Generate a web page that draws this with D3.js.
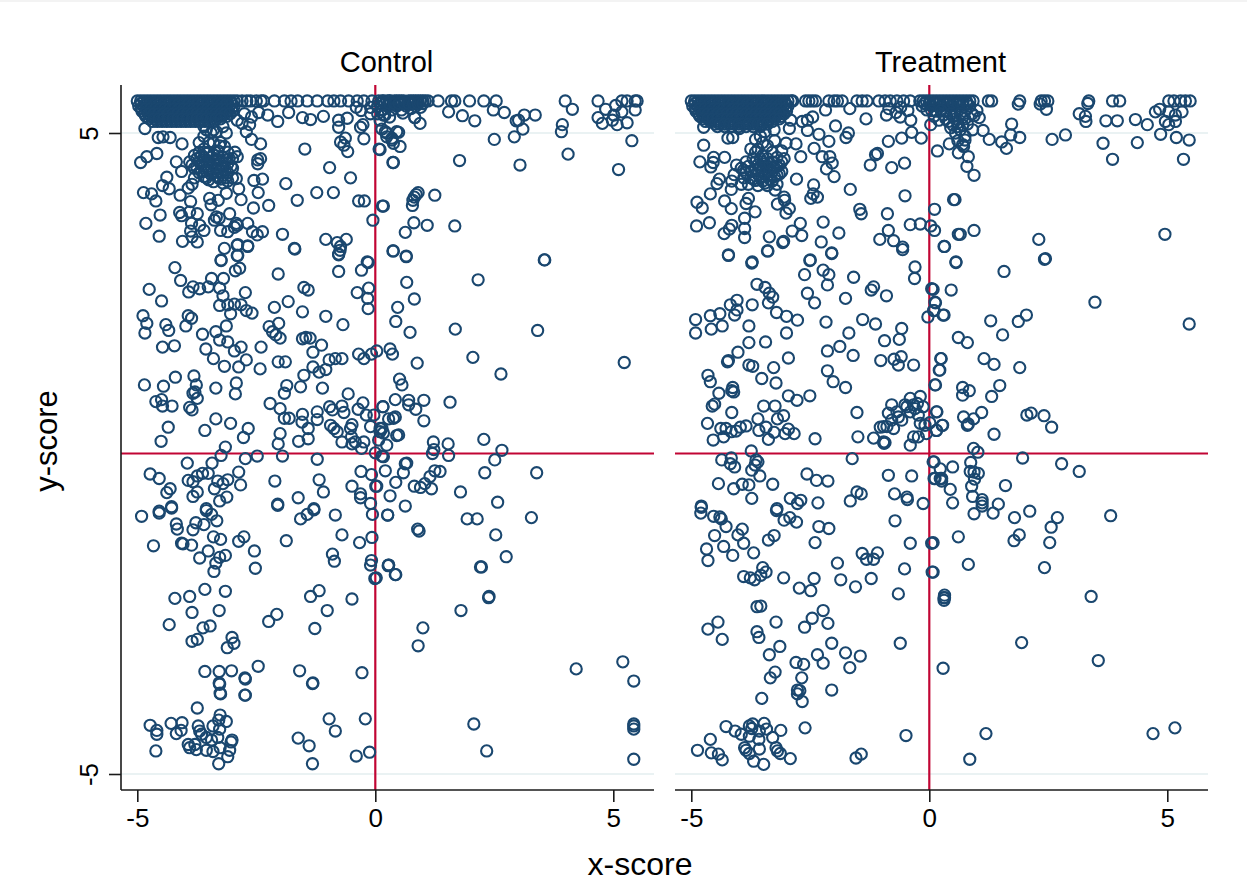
<!DOCTYPE html>
<html>
<head>
<meta charset="utf-8">
<script src="https://cdn.jsdelivr.net/npm/d3@7"></script>
<style>
  html, body { margin: 0; padding: 0; background: #fff; }
  svg { display: block; }
  text { font-family: "Liberation Sans", Arial, sans-serif; fill: #000; }
</style>
</head>
<body>
<svg id="chart" width="1247" height="895"></svg>
<script>
const panelTitles = ['Control', 'Treatment']
const xTicks = [-5, 0, 5]
const yTicks = [-5, 5]
const gridValues = [-5, 5]

// Control: scores pinned at the top of the scale
const controlTopRow = [-5,-4.93,-4.86,-4.79,-4.72,-4.65,-4.58,-4.51,-4.44,-4.37,-4.3,-4.23,-4.16,-4.09,-4.02,-3.95,-3.88,-3.81,-3.74,-3.67,-3.6,-3.53,-3.46,-3.39,-3.32,-3.25,-3.18,-3.11,-3.04,-2.97,-2.9,-2.8,-2.7,-2.62,-2.5,-2.4,-2.35,-2.12,-1.91,-1.77,-1.63,-1.43,-1.22,-1,-.87,-.73,-.56,-.38,-.24,-.07,.07,.15,.17,.25,.3,.31,.4,.45,.5,.55,.6,.7,.75,.8,.85,.9,.95,1,1.05,1.11,1.32,1.6,1.67,1.98,2.28,2.54,3.99,4.68,5.18,5.29,5.46,5.5]
const controlMass = [
  [-4.97,5.42],[-4.87,5.42],[-4.77,5.42],[-4.67,5.42],[-4.57,5.42],[-4.47,5.42],[-4.37,5.42],[-4.27,5.42],[-4.17,5.42],[-4.07,5.42],[-3.97,5.42],[-3.87,5.42],[-3.77,5.42],[-3.67,5.42],[-3.57,5.42],[-3.47,5.42],[-3.37,5.42],[-3.27,5.42],[-3.17,5.42],[-3.07,5.42],[-2.97,5.42],
  [-4.9,5.34],[-4.8,5.34],[-4.7,5.34],[-4.6,5.34],[-4.5,5.34],[-4.4,5.34],[-4.3,5.34],[-4.2,5.34],[-4.1,5.34],[-4,5.34],[-3.9,5.34],[-3.8,5.34],[-3.7,5.34],[-3.6,5.34],[-3.5,5.34],[-3.4,5.34],[-3.3,5.34],[-3.2,5.34],[-3.1,5.34],[-3,5.34],
  [-4.82,5.26],[-4.72,5.26],[-4.62,5.26],[-4.52,5.26],[-4.42,5.26],[-4.32,5.26],[-4.22,5.26],[-4.12,5.26],[-4.02,5.26],[-3.92,5.26],[-3.82,5.26],[-3.72,5.26],[-3.62,5.26],[-3.52,5.26],[-3.42,5.26],[-3.32,5.26],[-3.22,5.26],[-3.12,5.26],
  [-4.68,5.18],[-4.58,5.18],[-4.48,5.18],[-4.38,5.18],[-4.28,5.18],[-4.18,5.18],[-4.08,5.18],[-3.98,5.18],[-3.88,5.18],[-3.78,5.18],[-3.68,5.18],[-3.58,5.18],[-3.48,5.18],[-3.38,5.18],
  [-4.92,5.46],[-4.82,5.46],[-4.72,5.46],[-4.62,5.46],[-4.52,5.46],[-4.42,5.46],[-4.32,5.46],[-4.22,5.46],[-4.12,5.46],[-4.02,5.46],[-3.92,5.46],[-3.82,5.46],[-3.72,5.46],[-3.62,5.46],[-3.52,5.46],[-3.42,5.46],[-3.32,5.46],[-3.22,5.46],[-3.12,5.46],[-3.02,5.46],
  [-4.92,5.38],[-4.82,5.38],[-4.72,5.38],[-4.62,5.38],[-4.52,5.38],[-4.42,5.38],[-4.32,5.38],[-4.22,5.38],[-4.12,5.38],[-4.02,5.38],[-3.92,5.38],[-3.82,5.38],[-3.72,5.38],[-3.62,5.38],[-3.52,5.38],[-3.42,5.38],[-3.32,5.38],[-3.22,5.38],[-3.12,5.38],[-3.02,5.38],
  [-4.85,5.3],[-4.75,5.3],[-4.65,5.3],[-4.55,5.3],[-4.45,5.3],[-4.35,5.3],[-4.25,5.3],[-4.15,5.3],[-4.05,5.3],[-3.95,5.3],[-3.85,5.3],[-3.75,5.3],[-3.65,5.3],[-3.55,5.3],[-3.45,5.3],[-3.35,5.3],[-3.25,5.3],[-3.15,5.3],[-3.05,5.3],
  [-4.75,5.22],[-4.65,5.22],[-4.55,5.22],[-4.45,5.22],[-4.35,5.22],[-4.25,5.22],[-4.15,5.22],[-4.05,5.22],[-3.95,5.22],[-3.85,5.22],[-3.75,5.22],[-3.65,5.22],[-3.55,5.22],[-3.45,5.22],[-3.35,5.22],[-3.25,5.22],
  [-2.75,5.3],[-2.6,5.25],[-2.45,5.32],[-2.9,5.2],[-2.8,5.15],[-3.2,5.1],[-3.4,5.05],[-3.6,5.1],
  [-.4,5.4],[-.3,5.35],[-.1,5.4],[.05,5.42],[.15,5.36],[.25,5.42],[.35,5.36],[.45,5.42],[.55,5.36],[.65,5.42],[.75,5.38],[.85,5.42],[.95,5.4],[-.1,5.3],[.05,5.3],[.2,5.28],[.3,5.25],[.58,5.31],[.83,5.24],[.94,5.15],[.1,5.2],[.1,5.46],[.2,5.46],[.3,5.46],[.4,5.46],[.5,5.46],[.6,5.46],[.7,5.46],[.8,5.46],[.9,5.46],[1,5.46]
]
const controlCluster = [
  [-3.9,4.55],[-3.8,4.65],[-3.8,4.45],[-3.7,4.7],[-3.7,4.55],[-3.7,4.38],[-3.6,4.75],[-3.6,4.62],[-3.6,4.48],[-3.6,4.32],[-3.5,4.7],[-3.5,4.56],[-3.5,4.42],[-3.5,4.27],[-3.4,4.66],[-3.4,4.52],[-3.4,4.38],[-3.4,4.24],[-3.3,4.72],[-3.3,4.58],[-3.3,4.44],[-3.3,4.3],[-3.2,4.62],[-3.2,4.48],[-3.2,4.34],[-3.2,4.22],[-3.1,4.7],[-3.1,4.52],[-3.1,4.38],[-3.1,4.25],[-3,4.6],[-3,4.45],[-3,4.3],
  [-3.7,4.85],[-3.6,4.95],[-3.5,4.85],[-3.45,5],[-3.55,5.05],[-3.4,4.85],[-3.25,4.85],[-3.8,4.3],[-3.85,4.2],[-2.95,4.7],
  [-3.85,4.5],[-3.75,4.6],[-3.75,4.47],[-3.65,4.65],[-3.65,4.5],[-3.65,4.4],[-3.55,4.68],[-3.55,4.55],[-3.55,4.4],[-3.55,4.3],[-3.45,4.62],[-3.45,4.48],[-3.45,4.35],[-3.35,4.6],[-3.35,4.45],[-3.35,4.33],[-3.25,4.52],[-3.25,4.4],[-3.25,4.28],[-3.15,4.58],[-3.15,4.44],[-3.15,4.3]
]
const controlScatter = [
  [-4.84,5.07],[-4.56,4.93],[-4.46,4.94],[-4.31,4.93],[-4.59,4.68],[-4.8,4.63],[-4.93,4.54],[-4.06,4.83],[-4.18,4.55],[-4.07,4.4],[-4.38,4.31],[-4.87,4.07],[-4.7,4.05],[-4.61,3.94],[-4.47,4.18],[-4.33,4.13],[-4.1,4.03],[-3.93,4.14],[-4.82,3.59],[-4.52,3.72],[-4.54,3.39],[-4.11,3.76],[-4.07,3.71],[-3.9,3.77],[-3.74,3.74],[-3.88,3.93],[-3.86,3.59],[-3.69,3.56],[-3.6,3.48],[-3.88,3.47],[-3.85,3.38],[-3.74,3.3],[-4.05,3.31],[-3.17,3.2],[-2.9,3.25],[-3.24,3.02],[-2.9,3.09],[-2.68,3.23],[-3.25,3.48],[-3.1,3.46],[-2.9,3.56],[-2.68,3.59],[-2.58,3.46],[-2.48,3.41],[-2.37,3.46],[-1.95,3.42],[-1.7,3.2],[-1.04,3.34],[-.8,3.29],[-.61,3.34],[-.74,3.17],[-.77,3.11],[-.17,2.99],[-3.48,3.98],[-3.45,3.88],[-3.3,3.95],[-3.34,3.69],[-3.38,3.64],[-3.06,3.74],[-3.28,3.67],[-2.92,3.59],[-2.96,3.53],[-2.92,4.29],[-3.13,4.06],[-2.87,4.13],[-2.82,3.96],[-2.56,3.83],[-2.24,3.87],[-2.55,4.26],[-2.37,4.28],[-2.46,4.07],[-1.88,4.21],[-1.64,3.95],[-1.23,4.07],[-.88,4.07],[-.52,4.3],[-.96,4.46],[-.35,3.94],[-.23,3.94],[.15,3.86],[-.05,3.64],[.38,3.16],[.38,4.54],[.08,4.75],[-1.48,4.75],[-2.41,4.83],[-2.6,4.9],[-2.71,5.02],[-2.64,5.13],[-2.47,4.58],[-2.41,4.6],[-2.47,4.52],[-2.9,4.63],[-3.07,4.6],[-3.03,4.48],[-3.17,4.79],[-3.27,4.8],[-3.13,5],[-3.34,5.02],[-2.05,5.18],[-1.82,5.32],[-2.26,5.28],[-1.53,5.24],[-1.36,5.21],[-1.09,5.26],[-.77,5.09],[-.77,5.2],[-.59,5.23],[-.73,4.86],[-.63,4.92],[-.58,4.71],[-.66,4.81],[-.24,4.91],[-.26,5.13],[-.31,5.09],[.17,5.28],[.14,5.06],[.24,5],[.35,4.89],[.45,5.02],
  [1.54,5.33],[1.83,5.27],[2.09,5.19],[2.48,5.36],[2.71,5.32],[2.96,5.19],[3.01,5.2],[3.13,5.28],[3.36,5.28],[3.1,5.06],[2.5,4.9],[2.92,4.94],[3.93,5.13],[3.91,5.02],[4.14,5.37],[4.05,4.67],[3.04,4.5],[1.77,4.57],[.37,4.54],[5.11,4.43],[5.39,4.88],[4.68,5.24],[4.84,5.37],[4.77,5.15],[5.05,5.43],[4.98,5.2],[5.08,5.13],[5.29,5.16],[5.18,5.33],[5.46,5.36],[5.01,5.28],[.21,5.02],[.24,4.94],[.35,4.92],[.38,4.84],[.52,4.79],[.49,5.01],[.1,4.74],[.83,5.24],
  [.9,4.07],[.86,4.04],[.82,4],[.79,3.95],[.78,3.87],[1.25,4.03],[.17,3.86],[.81,3.6],[.63,3.45],[1.09,3.56],[1.67,3.55],[.37,3.16],[.65,3.07],[3.55,3.02],
  [-2.89,3.26],[-2.68,3.24],[-2.89,3.09],[-3.24,3.01],[-2.85,2.89],[-2.94,2.85],[-4.21,2.9],[-4.09,2.7],[-4.75,2.56],[-4.49,2.38],[-3.83,2.6],[-3.92,2.52],[-3.69,2.57],[-3.51,2.6],[-3.44,2.73],[-3.19,2.73],[-3.27,2.58],[-3.2,2.46],[-3.27,2.31],[-3.1,2.32],[-2.96,2.33],[-2.82,2.32],[-2.73,2.51],[-2.71,2.23],[-2.59,2.19],[-3.04,2.18],[-3.13,1.99],[-3.35,1.9],[-3.63,1.86],[-3.27,1.77],[-3.1,1.74],[-3.56,1.63],[-2.96,1.6],[-2.82,1.66],[-2.4,1.66],[-3.4,1.48],[-2.71,1.46],[-3.17,1.36],[-2.87,1.35],[-2.42,1.32],[-2.04,1.43],[-1.89,1.43],
  [-4.88,2.15],[-4.8,2.03],[-4.84,1.88],[-4.4,2.01],[-4.34,1.92],[-4.47,1.66],[-4.22,1.68],[-3.93,2.15],[-3.86,2.11],[-3.98,1.99],
  [-2.04,2.8],[-1.69,3.19],[-2.12,2.28],[-1.83,2.37],[-1.53,2.21],[-1.5,2.59],[-1.41,2.55],[-1.04,2.14],[-.68,2.01],[-.77,2.84],[-.77,3.1],[-.73,3.23],[-.29,2.86],[-.15,2.98],[-.38,2.51],[-.14,2.58],[-.16,2.42],[-.15,2.26],[-2.23,1.98],[-2.03,2.03],[-2.16,1.9],[-2.09,1.85],[-2,1.8],[-1.53,1.79],[-1.46,1.81],[-1.37,1.8],[-1.13,1.69],[-1.31,1.58],[-.97,1.46],[-.84,1.48],[-.7,1.48],[-.35,1.55],[-.24,1.48],[-.08,1.55],[.03,1.6],[-1.31,1.35],[-1.18,1.27],[-1.04,1.31],[-1.5,1.22],[-1.57,1.04],[-1.86,1.06],[-1.91,.94],[-1.11,1.02],[-.57,.93],
  [-4.85,1.07],[-4.2,1.19],[-4.45,1.05],[-3.81,1.21],[-3.76,1.07],[-3.79,.96],[-3.83,.94],[-3.74,.86],[-3.35,1.02],[-2.92,1.1],[-2.94,.93],[-4.61,.81],[-4.49,.84],[-4.47,.74],[-4.27,.74],[-3.9,.72],[-3.85,.68],[-4.35,.41],[-4.5,.19],[-3.58,.36],[-3.35,.54],[-3.04,.47],[-2.67,.39],[-2.77,.25],[-3.15,.1],[-3.24,-.03],[-2.73,-.08],[-2.48,-.04],[-1.95,-.04],[-2.21,.78],[-2,.7],[-1.91,.55],[-1.81,.55],[-2,.31],[-2.04,.15],[-1.61,.19],[-1.41,.23],[-1.41,.39],[-1.53,.61],[-1.54,.49],[-1.22,.65],[-1.22,.53],
  [-.96,.73],[-.9,.68],[-.7,.74],[-.66,.64],[-.36,.69],[-.26,.79],[-.19,.6],[-.03,.6],[.16,.73],[-.94,.44],[-.87,.39],[-.8,.34],[-.49,.45],[-.52,.39],[-.5,.26],[-.7,.18],[-.42,.18],[-.49,.15],[-.24,.18],[-.29,.08],[-.1,.42],[.14,.39],[.1,.34],[.07,.21],[0,.01],[.14,-.04],[-1.22,-.09],
  [-3.95,-.15],[-3.43,-.15],[-4.73,-.32],[-4.54,-.39],[-3.93,-.42],[-3.83,-.44],[-3.74,-.35],[-3.63,-.31],[-3.51,-.31],[-4.31,-.55],[-4.38,-.61],[-3.74,-.6],[-3.83,-.67],[-3.55,-.86],[-4.28,-.83],[-4.54,-.9],[-3.31,-.43],[-3.38,-.55],[-3.2,-.47],[-3.1,-.41],[-2.83,-.49],[-2.87,-.29],[-3.12,-.68],[-3.27,-.74],[-2.11,-.43],[-2.05,-.79],[-1.62,-.69],[-1.18,-.41],[-1.09,-.6],[-1.29,-.86],[-.49,-.51],[-.3,-.28],[-.08,-.33],[.01,-.51],[-.31,-.63],[-.31,-.69],[-.1,-.78],
  [-4.91,-.98],[-4.54,-.93],[-4.28,-.85],[-4.18,-1.1],[-4.16,-1.18],[-3.77,-1.08],[-3.83,-1.19],[-3.6,-1.11],[-3.55,-.89],[-3.44,-.95],[-3.33,-1.05],[-4.66,-1.44],[-4.07,-1.4],[-4.04,-1.41],[-3.86,-1.43],[-3.4,-1.3],[-3.25,-1.34],[-3.51,-1.52],[-3.69,-1.63],[-3.15,-1.59],[-3.27,-1.62],[-3.35,-1.71],[-3.39,-1.84],[-2.87,-1.37],[-2.76,-1.3],[-2.54,-1.52],[-2.52,-1.79],[-2.05,-.81],[-1.87,-1.36],[-1.57,-1.02],[-1.43,-.95],[-1.29,-.88],[-.84,-.96],[-.7,-1.27],[-.33,-1.39],[-.07,-1.31],[-.06,-.95],[.26,-.96],[-.9,-1.57],[-.86,-1.68],[-.08,-1.67],[-.1,-1.74],[-.01,-1.95],[.28,-1.74],
  [-3.58,-2.12],[-3.15,-2.15],[-4.21,-2.26],[-3.9,-2.23],[-3.85,-2.48],[-3.28,-2.45],[-4.33,-2.67],[-3.62,-2.72],[-3.47,-2.69],[-3.85,-2.93],[-3.74,-2.9],[-3.01,-2.87],[-2.97,-2.96],[-3.11,-3.03],[-1.36,-2.23],[-1.18,-2.14],[-.49,-2.27],[-1.01,-2.45],[-2.24,-2.62],[-2.07,-2.51],[-1.27,-2.73],
  [-3.58,-3.4],[-3.28,-3.4],[-3.02,-3.39],[-2.46,-3.32],[-2.74,-3.5],[-3.28,-3.58],[-3.25,-3.75],[-2.74,-3.77],[-1.59,-3.39],[-1.31,-3.58],[-.28,-3.42],
  [-3.74,-3.97],[-4.73,-4.24],[-4.59,-4.32],[-4.59,-4.38],[-4.61,-4.64],[-4.29,-4.21],[-4.06,-4.2],[-4.08,-4.32],[-4.18,-4.37],[-3.26,-4.08],[-3.29,-4.16],[-3.13,-4.18],[-3.72,-4.25],[-3.69,-4.33],[-3.65,-4.38],[-3.41,-4.25],[-3.27,-4.3],[-3.55,-4.43],[-3.44,-4.47],[-3.31,-4.43],[-3.01,-4.47],[-3.03,-4.5],[-3.93,-4.54],[-3.9,-4.59],[-3.79,-4.54],[-3.76,-4.62],[-3.55,-4.63],[-3.41,-4.65],[-3.26,-4.59],[-3.06,-4.63],[-3.1,-4.73],[-3.29,-4.84],[-3.26,-3.74],[-2.73,-3.77],[-3.27,-3.6],[-2.73,-3.52],[-1.32,-3.59],[-1.62,-4.44],[-1.39,-4.56],[-1.32,-4.84],[-.97,-4.14],[-.84,-4.33],[-.21,-4.14],[-.12,-4.66],[-.4,-4.72],
  [2.07,-4.22],[2.34,-4.64],[4.22,-3.36],[5.2,-3.25],[5.43,-3.55],[5.43,-4.22],[5.43,-4.25],[5.43,-4.3],[5.43,-4.77],[1,-2.72],[.9,-3],[1.8,-2.45],[2.38,-2.25],[2.21,-1.77],[.42,-1.89],[.27,-1.75],
  [.65,3.08],[3.56,3.02],[.66,2.67],[2.16,2.71],[.82,2.41],[.47,2.28],[.43,2.06],[.73,1.89],[1.68,1.94],[3.41,1.92],[.31,1.63],[.36,1.55],[.88,1.41],[2.05,1.5],[2.64,1.24],[5.23,1.42],[.51,1.16],[.56,1.07],[.42,.84],[.16,.73],[.7,.83],[.7,.76],[.85,.69],[1.02,.83],[1.57,.8],[1.02,.51],[.42,.57],[.38,.55],[.28,.54],[.1,.39],[.17,.32],[.45,.28],[.49,.29],[.24,.13],[1.22,.18],[1.53,.15],[1.23,.06],[1.2,0],[1.54,-.03],[2.28,.22],[2.66,.05],[2.51,-.1],[2.3,-.3],[3.39,-.3],[.17,-.05],[.63,-.16],[.66,-.15],[.59,-.3],[.21,-.27],[.43,-.45],[1.36,-.28],[1.25,-.27],[1.15,-.36],[1.04,-.47],[.82,-.51],[.95,-.53],[1.18,-.55],[.03,-.51],[.31,-.66],[.63,-.82],[.26,-.96],[1.79,-.6],[2.57,-.76],[1.93,-1.02],[2.14,-1.02],[3.28,-1],[.89,-1.18],[.92,-1.21],[2.53,-1.27],[2.75,-1.61],[2.23,-1.77],[.28,-1.74],[.43,-1.89],[.02,-1.94],[2.39,-2.23]
]

// Treatment: same structure
const treatmentTopRow = [-5,-4.93,-4.86,-4.79,-4.72,-4.65,-4.58,-4.51,-4.44,-4.37,-4.3,-4.23,-4.16,-4.09,-4.02,-3.95,-3.88,-3.81,-3.74,-3.67,-3.6,-3.53,-3.46,-3.39,-3.32,-3.25,-3.18,-3.11,-3.04,-2.97,-2.9,-2.87,-2.6,-2.53,-2.46,-2.39,-2.11,-2,-1.93,-1.83,-1.52,-1.41,-1.31,-1.06,-.93,-.82,-.68,-.54,-.4,-.2,-.13,-.06,.01,.08,.15,.22,.29,.36,.43,.5,.57,.64,.71,.78,.85,.92,1.24,1.31,1.9,2.35,2.42,2.49,3.35,3.85,4,5.03,5.14,5.28,5.38,5.48]
const treatmentMass = [
  [-4.97,5.42],[-4.87,5.42],[-4.77,5.42],[-4.67,5.42],[-4.57,5.42],[-4.47,5.42],[-4.37,5.42],[-4.27,5.42],[-4.17,5.42],[-4.07,5.42],[-3.97,5.42],[-3.87,5.42],[-3.77,5.42],[-3.67,5.42],[-3.57,5.42],[-3.47,5.42],[-3.37,5.42],[-3.27,5.42],[-3.17,5.42],[-3.07,5.42],[-2.97,5.42],
  [-4.9,5.34],[-4.8,5.34],[-4.7,5.34],[-4.6,5.34],[-4.5,5.34],[-4.4,5.34],[-4.3,5.34],[-4.2,5.34],[-4.1,5.34],[-4,5.34],[-3.9,5.34],[-3.8,5.34],[-3.7,5.34],[-3.6,5.34],[-3.5,5.34],[-3.4,5.34],[-3.3,5.34],[-3.2,5.34],[-3.1,5.34],[-3,5.34],
  [-4.82,5.26],[-4.72,5.26],[-4.62,5.26],[-4.52,5.26],[-4.42,5.26],[-4.32,5.26],[-4.22,5.26],[-4.12,5.26],[-4.02,5.26],[-3.92,5.26],[-3.82,5.26],[-3.72,5.26],[-3.62,5.26],[-3.52,5.26],[-3.42,5.26],[-3.32,5.26],[-3.22,5.26],[-3.12,5.26],
  [-4.7,5.18],[-4.6,5.18],[-4.5,5.18],[-4.4,5.18],[-4.3,5.18],[-4.2,5.18],[-4.1,5.18],[-4,5.18],[-3.9,5.18],[-3.8,5.18],[-3.7,5.18],[-3.6,5.18],[-3.5,5.18],[-3.4,5.18],[-3.3,5.18],
  [-4.45,5.1],[-4.3,5.1],[-4.15,5.1],[-4,5.1],[-3.85,5.1],[-3.7,5.1],[-3.55,5.1],
  [-4.92,5.46],[-4.82,5.46],[-4.72,5.46],[-4.62,5.46],[-4.52,5.46],[-4.42,5.46],[-4.32,5.46],[-4.22,5.46],[-4.12,5.46],[-4.02,5.46],[-3.92,5.46],[-3.82,5.46],[-3.72,5.46],[-3.62,5.46],[-3.52,5.46],[-3.42,5.46],[-3.32,5.46],[-3.22,5.46],[-3.12,5.46],[-3.02,5.46],
  [-4.92,5.38],[-4.82,5.38],[-4.72,5.38],[-4.62,5.38],[-4.52,5.38],[-4.42,5.38],[-4.32,5.38],[-4.22,5.38],[-4.12,5.38],[-4.02,5.38],[-3.92,5.38],[-3.82,5.38],[-3.72,5.38],[-3.62,5.38],[-3.52,5.38],[-3.42,5.38],[-3.32,5.38],[-3.22,5.38],[-3.12,5.38],[-3.02,5.38],
  [-4.85,5.3],[-4.75,5.3],[-4.65,5.3],[-4.55,5.3],[-4.45,5.3],[-4.35,5.3],[-4.25,5.3],[-4.15,5.3],[-4.05,5.3],[-3.95,5.3],[-3.85,5.3],[-3.75,5.3],[-3.65,5.3],[-3.55,5.3],[-3.45,5.3],[-3.35,5.3],[-3.25,5.3],[-3.15,5.3],[-3.05,5.3],
  [-4.75,5.22],[-4.65,5.22],[-4.55,5.22],[-4.45,5.22],[-4.35,5.22],[-4.25,5.22],[-4.15,5.22],[-4.05,5.22],[-3.95,5.22],[-3.85,5.22],[-3.75,5.22],[-3.65,5.22],[-3.55,5.22],[-3.45,5.22],[-3.35,5.22],[-3.25,5.22],[-3.15,5.22],
  [-4.5,5.14],[-4.4,5.14],[-4.3,5.14],[-4.2,5.14],[-4.1,5.14],[-4,5.14],[-3.9,5.14],[-3.8,5.14],[-3.7,5.14],[-3.6,5.14],[-3.5,5.14],[-3.4,5.14],
  [-.15,5.42],[-.05,5.36],[.05,5.42],[.15,5.34],[.25,5.42],[.35,5.34],[.45,5.42],[.55,5.34],[.65,5.42],[.75,5.34],[.85,5.42],[.1,5.26],[.2,5.2],[.3,5.28],[.4,5.18],[.5,5.26],[.6,5.16],[.7,5.24],[.8,5.14],[.45,5.08],[.55,5],[.65,5.05],[.75,4.95],[.6,4.88],[.7,4.82],[-.6,5.4],[-.45,5.35],[-.85,5.38],[-.7,5.32],[.9,5.3],[1,5.35],
  [-.1,5.46],[0,5.46],[.1,5.46],[.2,5.46],[.3,5.46],[.4,5.46],[.5,5.46],[.6,5.46],[.7,5.46],[.8,5.46],[.05,5.35],[.25,5.35],[.45,5.3],[.65,5.3],[.35,5.22],[.55,5.22],[.75,5.22],[.6,5.1],[.7,5.12],[.5,5.12]
]
const treatmentCluster = [
  [-3.95,4.45],[-3.9,4.3],[-3.85,4.55],[-3.8,4.2],[-3.75,4.4],[-3.7,4.6],[-3.7,4.28],[-3.6,4.5],[-3.6,4.35],[-3.6,4.18],[-3.5,4.65],[-3.5,4.55],[-3.5,4.42],[-3.5,4.25],[-3.4,4.6],[-3.4,4.47],[-3.4,4.33],[-3.4,4.18],[-3.3,4.7],[-3.3,4.55],[-3.3,4.4],[-3.3,4.25],[-3.2,4.62],[-3.2,4.48],[-3.2,4.34],[-3.2,4.2],[-3.1,4.72],[-3.1,4.55],[-3.1,4.4],[-3.05,4.6],[-3.6,4.75],[-3.5,4.85],[-3.4,4.8],[-3.55,4.95],[-3.45,5.02],[-3.65,4.9],[-3.75,4.75],[-4.05,4.5],[-4.1,4.35],[-4.15,4.25],[-3.25,4.88],
  [-3.85,4.38],[-3.8,4.48],[-3.75,4.3],[-3.65,4.42],[-3.65,4.55],[-3.65,4.26],[-3.55,4.6],[-3.55,4.46],[-3.55,4.3],[-3.45,4.52],[-3.45,4.38],[-3.45,4.22],[-3.35,4.4],[-3.35,4.52],[-3.35,4.28],[-3.25,4.46],[-3.25,4.32],[-3.15,4.5],[-3.15,4.36],[-3.95,4.2],[-3.9,4.42],[-3.65,4.7]
]
const treatmentScatter = [
  [-4.74,5.09],[-4.74,4.81],[-4.82,4.55],[-4.53,4.62],[-4.54,4.54],[-4.59,4.47],[-4.3,4.62],[-4.88,3.92],[-4.77,3.83],[-4.6,4.05],[-4.89,3.55],[-4.62,3.6],[-4.41,4.28],[-4.46,4.21],[-4.3,3.94],[-4.16,3.82],[-4.16,4.12],[-3.8,3.98],[-3.85,3.9],[-3.88,3.67],[-3.66,3.77],[-4.15,3.56],[-4.2,3.5],[-4.31,3.43],[-3.88,3.51],[-3.88,3.37],[-4.22,3.09],[-3.36,3.38],[-3.39,3.16],[-3.72,2.99],[-3.06,3.31],[-2.88,3.47],[-2.71,3.59],[-2.68,3.4],[-2.23,3.61],[-1.9,3.44],[-2.27,3.3],[-2.05,3.12],[-2.5,3.02],[-3.19,3.89],[-3.05,4],[-3.04,3.95],[-2.94,3.82],[-3.01,3.75],[-2.79,4.28],[-3.24,4.11],[-2.49,3.98],[-2.44,4.05],[-2.35,4],[-2.43,4.19],[-1.66,4.12],[-1.24,4.5],[-1.13,4.66],[-1.09,4.68],[-.79,4.46],[-.52,4.53],[-.86,4.87],[-.58,4.92],[-.17,4.92],[-.37,5.01],[-.39,5.2],[.03,5.13],[.17,4.72],[.42,4.83],[-.51,4.02],[-1.46,3.81],[-1.43,3.74],[-.88,3.74],[-.86,3.48],[-1.04,3.34],[-.75,3.32],[-.56,3.18],[-.4,3.57],[-.19,3.58],[.03,3.55],[.11,3.48],[.11,3.81],[.51,3.96],[.31,3.23],[.61,3.42],
  [-1.97,5.11],[-1.7,5],[-1.75,4.93],[-2.11,4.87],[-2.32,4.98],[-2.42,4.76],[-2.25,4.63],[-2.09,4.63],[-2.04,4.53],[-2.16,4.44],[-2,4.32],[-2.7,4.63],[-2.8,4.83],[-3.01,4.84],[-2.94,5.07],[-2.91,5.2],[-2.67,5.18],[-2.56,5.2],[-2.56,5.04],[-2.45,5.25],[-2.18,5.36],[-1.67,5.38],[-1.33,5.22],[-.9,5.28],[-.61,5.25],[-3.26,5.05],[-4.23,4.92],[-4.13,4.93],[-3.99,5.07],
  [1.87,5.45],[2.33,5.45],[2.46,5.37],[3.33,5.46],[.94,5.27],[1.73,5.14],[1.71,4.97],[1.9,4.93],[1.52,4.86],[1.62,4.76],[1.26,4.9],[1.13,5.04],[.91,5.05],[1.05,5.24],[2.58,4.9],[2.86,4.97],[3.15,5.3],[3.28,5.26],[3.29,5.18],[3.71,5.19],[3.95,5.19],[3.65,4.84],[3.85,4.59],[4.37,4.85],[4.33,5.21],[4.58,5.13],[4.75,5.33],[4.84,5.37],[4.96,5.18],[5.03,5.13],[4.86,4.98],[5.19,4.93],[5.46,4.89],[5.34,4.59],[5.31,5.33],[5.17,5.28],[5.03,5.33],[5.17,5.18],[.82,4.63],[.79,4.48],[.94,4.34],[.61,4.69],[.72,4.79],[.75,4.89],[.54,3.96],[.65,3.42],[.94,3.48],[2.3,3.34],[4.95,3.42],[2.44,3.04],[.56,2.99],
  [-4.22,3.1],[-3.73,2.97],[-3.4,3.16],[-3.08,3.29],[-2.51,3.01],[-2.05,3.13],[-2.23,2.86],[-2.11,2.79],[-2.62,2.79],[-2.14,2.63],[-1.59,2.75],[-1.17,2.6],[-1.22,2.55],[-.9,2.46],[-1.76,2.42],[-2.56,2.5],[-2.41,2.35],[-.3,2.91],[-.31,2.73],[-.56,3.22],[.05,2.57],[.12,2.36],[.1,2.23],[-.03,2.13],[.29,2.16],
  [-3.62,2.64],[-3.45,2.59],[-3.36,2.5],[-3.29,2.44],[-3.38,2.35],[-3.21,2.2],[-3,2.14],[-2.77,2.08],[-4.04,2.39],[-4.18,2.32],[-4.04,2.24],[-4.09,2.16],[-3.72,2.32],[-4.4,2.18],[-4.6,2.15],[-4.91,2.09],[-4.91,1.88],[-4.58,1.94],[-4.35,1.99],[-3.79,1.99],[-3,1.88],[-3.44,1.74],[-3.79,1.73],[-4.02,1.58],[-4.22,1.45],[-4.24,1.43],[-2.96,1.49],[-3.27,1.34],[-3.79,1.38],[-3.71,1.36],[-3.52,1.17],[-3.22,1.1],[-4.65,1.22],[-4.6,1.12],[-4.42,.94],[-4.13,1.03],[-4.15,.98],[-4.11,.96],[-4.51,.77],[-4.56,.74],[-4.15,.64],[-4.66,.47],[-4.38,.39],[-4.27,.39],[-4.16,.34],[-4.32,.26],[-4.54,.21],[-3.97,.41],[-3.85,.43],[-4.06,.35],[-3.6,.54],[-3.58,.36],[-3.43,.41],[-3.26,.33],[-3.38,.22],[-3.48,.74],[-3.24,.74],[-3.06,.59],[-3.19,.54],[-3.03,.31],[-2.96,.38],[-2.84,.31],[-2.96,.9],[-2.78,.83],[-2.51,.9],[-2.4,.23],
  [-2.17,2.05],[-1.4,2.09],[-1.13,2.02],[-1.69,1.88],[-.58,1.95],[-.63,1.78],[-.94,1.76],[-1.88,1.67],[-2.14,1.6],[-1.6,1.53],[-1.02,1.45],[-.74,1.47],[-.59,1.51],[-.65,1.38],[-.33,1.38],[.24,1.48],[.21,1.3],[.12,1.07],[-2.14,1.29],[-2.02,1.12],[-1.76,1.03],[-1.52,.64],[-1.5,.26],[-1.17,.24],[-.96,.18],[-.95,.16],[-.93,.17],[-.4,.13],[-.33,.26],[-.23,.26],[.15,.65],[.27,.44],[.15,.36],
  [-.79,.76],[-.86,.63],[-.96,.42],[-1.03,.41],[-.89,.42],[-.75,.39],[-.79,.52],[-.68,.65],[-.58,.52],[-.51,.76],[-.4,.86],[-.33,.76],[-.19,.89],[-.25,.78],[-.13,.73],[-.4,.65],[-.23,.6],[-.09,.44],[-.19,.47],[.01,.48],[-.47,.73],[-.65,.57],[-.3,.7],[-.06,.31],
  [-3.74,.04],[-4.16,-.07],[-4.36,-.1],[-4.18,-.16],[-4.09,-.21],[-3.64,-.1],[-3.6,-.13],[-3.66,-.18],[-3.73,-.26],[-3.56,-.35],[-1.62,-.08],[.08,-.13],[.12,-.39],[.26,-.39],[-4.43,-.47],[-4.11,-.55],[-3.93,-.48],[-3.79,-.49],[-3.29,-.48],[-3.73,-.7],[-2.57,-.32],[-2.37,-.42],[-2.13,-.43],[-.86,-.34],[-.37,-.35],[-2.92,-.7],[-2.77,-.78],[-2.7,-.73],[-2.34,-.77],[-1.66,-.74],[-1.52,-.6],[-1.43,-.63],[-.73,-.63],[-.47,-.68],[-.46,-.72],[-.13,-.78],[-4.79,-.82],[-3.2,-.86],
  [-4.79,-.84],[-4.8,-.93],[-4.53,-.98],[-4.4,-.99],[-4.37,-1.02],[-4.27,-1.14],[-3.93,-1.18],[-4.02,-1.27],[-4.51,-1.28],[-3.9,-1.4],[-4.32,-1.45],[-4.68,-1.49],[-4.13,-1.59],[-4.65,-1.67],[-3.69,-1.55],[-3.21,-.89],[-3.05,-1.04],[-2.93,-1],[-2.79,-1.07],[-3.38,-1.35],[-3.26,-1.28],[-2.32,-1.14],[-2.11,-1.17],[-2.4,-1.39],[-.72,-1.05],[-.4,-1.4],[.05,-1.4],[.06,-1.85],[-.52,-1.8],[-1.41,-1.56],[-1.32,-1.65],[-1.17,-1.65],[-1.09,-1.55],[-1.93,-1.71],[-1.86,-1.97],[-1.55,-2.08],[-1.22,-1.95],[-.65,-2.19],[.31,-2.25],[.31,-2.29],[-3.9,-1.92],[-3.76,-1.94],[-3.67,-1.97],[-3.5,-1.78],[-3.43,-1.85],[-3.54,-1.9],[-3.06,-1.94],[-2.73,-2.1],[-2.49,-2.14],[-2.42,-1.95],
  [-3.62,-2.39],[-3.54,-2.38],[-4.44,-2.63],[-4.65,-2.74],[-4.35,-2.9],[-3.22,-2.63],[-3.62,-2.78],[-3.58,-2.87],[-2.62,-2.71],[-2.46,-2.57],[-2.23,-2.45],[-2.13,-2.65],[-2.05,-2.96],[-1.76,-3.11],[-1.45,-3.16],[-1.67,-3.34],[-2.35,-3.14],[-2.23,-3.27],[-2.8,-3.26],[-2.64,-3.29],[-2.68,-3.5],[-3.14,-3.01],[-3.36,-3.14],[-3.24,-3.41],[-3.34,-3.5],[-2.77,-3.69],[-2.72,-3.7],[-2.77,-3.75],[-2.67,-3.87],[-2.05,-3.69],[-3.52,-3.82],[-.61,-2.96],[.29,-3.35],[-.49,-4.4],[-2.61,-4.28],[-1.54,-4.75],[-1.43,-4.69],
  [-4.27,-4.26],[-4.08,-4.33],[-3.95,-4.38],[-3.78,-4.25],[-3.71,-4.22],[-3.73,-4.29],[-3.47,-4.21],[-3.57,-4.33],[-3.42,-4.3],[-3.29,-4.43],[-3.12,-4.32],[-3.78,-4.41],[-3.58,-4.46],[-4.6,-4.46],[-4.87,-4.63],[-4.58,-4.67],[-4.43,-4.69],[-4.35,-4.78],[-3.88,-4.59],[-3.85,-4.63],[-3.78,-4.68],[-3.69,-4.8],[-3.57,-4.61],[-3.48,-4.85],[-3.22,-4.59],[-3.19,-4.64],[-3.13,-4.68],[-2.92,-4.76],
  [1.19,-4.37],[.85,-4.77],[4.7,-4.37],[5.16,-4.28],[3.55,-3.23],[1.94,-2.95],
  [.32,3.23],[.56,2.98],[2.42,3.03],[1.57,2.84],[.08,2.56],[.46,2.55],[.13,2.35],[.09,2.23],[.31,2.16],[3.48,2.36],[5.46,2.02],[1.29,2.07],[1.87,2.06],[2.04,2.16],[1.54,1.85],[.61,1.81],[.8,1.73],[.25,1.48],[.22,1.3],[1.15,1.48],[1.36,1.39],[1.9,1.34],[.13,1.07],[.7,1.03],[.84,.98],[.7,.91],[1.48,1.06],[1.31,.89],[1.1,.64],[.93,.54],[.72,.57],[.8,.44],[.82,.46],[.16,.65],[.28,.44],[.15,.36],[2.05,.6],[2.14,.63],[2.41,.59],[2.57,.41],[1.36,.3],[.93,.08],[1.02,.02],[1.96,-.07],[2.78,-.16],[3.15,-.28],[.1,-.13],[.49,-.21],[.23,-.24],[.1,-.39],[.23,-.39],[.26,-.43],[.44,-.56],[.49,-.77],[.87,-.14],[.86,-.28],[.94,-.29],[1.03,-.31],[.95,-.4],[.89,-.51],[.91,-.67],[1.11,-.72],[1.11,-.77],[1.11,-.82],[.94,-.94],[1.34,-.93],[1.45,-.79],[1.6,-.5],[1.79,-1],[2.11,-.9],[2.69,-1],[2.56,-1.15],[3.81,-.97],[1.89,-1.27],[1.78,-1.36],[2.53,-1.39],[.61,-1.3],[.08,-1.39],[.82,-1.73],[2.42,-1.78],[.08,-1.85],[.32,-2.21],[.32,-2.25],[3.4,-2.23]
]

const topScore = 5.5
const controlPoints = controlTopRow.map((x) => [x, topScore]).concat(controlMass, controlCluster, controlScatter)
const treatmentPoints = treatmentTopRow.map((x) => [x, topScore]).concat(treatmentMass, treatmentCluster, treatmentScatter)
const panelPoints = [controlPoints, treatmentPoints]

const navy = '#1a476f'
const cranberry = '#c10534'
const gridColor = '#eaf2f3'
const axisColor = '#1a1a1a'

const panelLeft = [121, 675]
const panelTop = 85
const panelWidth = 533
const panelHeight = 705

const x = d3.scaleLinear().domain([-5, 5]).range([16.3, 492.3])
const y = d3.scaleLinear().domain([-5, 5]).range([689, 48])

const svg = d3.select('#chart')

// faint strip along the top edge of the picture
svg
  .append('line')
  .attr('x1', 0)
  .attr('x2', 1247)
  .attr('y1', 1)
  .attr('y2', 1)
  .attr('stroke', '#efefef')
  .attr('stroke-width', 1.5)

panelTitles.forEach((title, i) => {
  const g = svg
    .append('g')
    .attr('transform', `translate(${panelLeft[i]},${panelTop})`)

  // grid
  g.selectAll('.grid')
    .data(gridValues)
    .join('line')
    .attr('class', 'grid')
    .attr('x1', 0)
    .attr('x2', panelWidth)
    .attr('y1', (d) => y(d))
    .attr('y2', (d) => y(d))
    .attr('stroke', gridColor)
    .attr('stroke-width', 2)

  // reference lines at zero
  g.append('line')
    .attr('x1', 0)
    .attr('x2', panelWidth)
    .attr('y1', y(0))
    .attr('y2', y(0))
    .attr('stroke', cranberry)
    .attr('stroke-width', 2.2)
  g.append('line')
    .attr('x1', x(0))
    .attr('x2', x(0))
    .attr('y1', 0)
    .attr('y2', panelHeight)
    .attr('stroke', cranberry)
    .attr('stroke-width', 2.2)

  g.append('g')
    .selectAll('circle')
    .data(panelPoints[i])
    .join('circle')
    .attr('cx', (d) => x(d[0]))
    .attr('cy', (d) => y(d[1]))
    .attr('r', 5.6)
    .attr('fill', 'none')
    .attr('stroke', navy)
    .attr('stroke-width', 2.1)

  // x axis
  const xAxis = g
    .append('g')
    .attr('transform', `translate(0,${panelHeight})`)
    .call(
      d3
        .axisBottom(x)
        .tickValues(xTicks)
        .tickSize(12)
        .tickPadding(7)
        .tickFormat((d) => String(d))
    )
  xAxis.select('.domain').remove()
  xAxis.selectAll('line').attr('stroke', axisColor).attr('stroke-width', 1.6)
  xAxis.selectAll('text').attr('font-size', 26).attr('font-family', null)
  xAxis
    .append('line')
    .attr('x1', 0)
    .attr('x2', panelWidth)
    .attr('stroke', axisColor)
    .attr('stroke-width', 1.6)

  // y axis only on the first panel
  if (i === 0) {
    const yAxis = g.append('g').call(
      d3
        .axisLeft(y)
        .tickValues(yTicks)
        .tickSize(12)
        .tickFormat((d) => String(d))
    )
    yAxis.select('.domain').remove()
    yAxis.selectAll('line').attr('stroke', axisColor).attr('stroke-width', 1.6)
    yAxis
      .selectAll('text')
      .attr('font-size', 26)
      .attr('font-family', null)
      .attr('text-anchor', 'middle')
      .attr('x', 0)
      .attr('y', 0)
      .attr('dy', 0)
      .attr('transform', 'translate(-23,0) rotate(-90)')
    yAxis
      .append('line')
      .attr('y1', 0)
      .attr('y2', panelHeight)
      .attr('stroke', axisColor)
      .attr('stroke-width', 1.6)
  }

  g.append('text')
    .attr('x', panelWidth / 2 - 1)
    .attr('y', -13)
    .attr('text-anchor', 'middle')
    .attr('font-size', 29)
    .text(title)
})

svg
  .append('text')
  .attr('x', 640)
  .attr('y', 875)
  .attr('text-anchor', 'middle')
  .attr('font-size', 32)
  .text('x-score')

svg
  .append('text')
  .attr('transform', 'translate(57,441) rotate(-90)')
  .attr('text-anchor', 'middle')
  .attr('font-size', 31)
  .text('y-score')
</script>
</body>
</html>
